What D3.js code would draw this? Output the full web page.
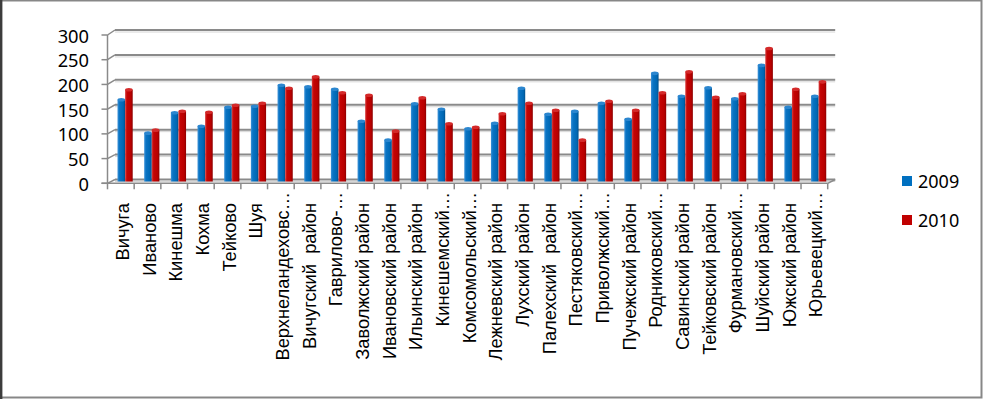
<!DOCTYPE html>
<html>
<head>
<meta charset="utf-8">
<script src="https://cdn.jsdelivr.net/npm/d3@7"></script>
<style>
  html, body { margin: 0; padding: 0; background: #fff; }
  svg { display: block; }
  text { font-family: "Noto Sans", "Open Sans", sans-serif; fill: #000; }
</style>
</head>
<body>
<svg id="chart" width="983" height="399"></svg>
<script>
const categories = [
  "Вичуга", "Иваново", "Кинешма", "Кохма", "Тейково", "Шуя",
  "Верхнеландеховс…", "Вичугский  район", "Гаврилово-…", "Заволжский район",
  "Ивановский район", "Ильинский район", "Кинешемский…", "Комсомольский…",
  "Лежневский район", "Лухский район", "Палехский  район", "Пестяковский…",
  "Приволжский…", "Пучежский район", "Родниковский…", "Савинский район",
  "Тейковский район", "Фурмановский…", "Шуйский район", "Южский район", "Юрьевецкий…"
];
const values2009 = [164, 97, 138, 111, 149, 151, 193, 190, 185, 121, 83, 156, 145, 106, 117, 187, 135, 141, 157, 125, 217, 171, 188, 166, 233, 149, 171];
const values2010 = [184, 103, 141, 139, 153, 157, 187, 210, 178, 173, 101, 168, 116, 109, 136, 157, 143, 83, 161, 143, 178, 220, 169, 176, 267, 185, 200];
const seriesNames = ["2009", "2010"];
const yTicks = [0, 50, 100, 150, 200, 250, 300];

const svg = d3.select("#chart");

// outer frame
svg.append("rect").attr("x", 1).attr("y", 0.5).attr("width", 980.5).attr("height", 397)
  .attr("fill", "#fff").attr("stroke", "#878787").attr("stroke-width", 2);
svg.append("line").attr("x1", 1.2).attr("x2", 1.2).attr("y1", 0).attr("y2", 399)
  .attr("stroke", "#3c3c3c").attr("stroke-width", 2.4);

// geometry
const x0 = 107.5, x1 = 827.7;
const depthX = 7.5;
const x = d3.scaleBand().domain(d3.range(categories.length)).range([x0, x1]).padding(0);
const yFront = d3.scaleLinear().domain([0, 300]).range([183.3, 35]);
const yBack = d3.scaleLinear().domain([0, 300]).range([179.5, 30]);
const yBar = d3.scaleLinear().domain([0, 300]).range([181.5, 32]);

const defs = svg.append("defs");
function grad(id, stops) {
  const g = defs.append("linearGradient").attr("id", id).attr("x1", "0%").attr("x2", "100%").attr("y1", "0%").attr("y2", "0%");
  stops.forEach(s => g.append("stop").attr("offset", s[0]).attr("stop-color", s[1]));
}
grad("gBlue", [["0%", "#3f93d8"], ["25%", "#0a74c4"], ["75%", "#0068b4"], ["100%", "#00508c"]]);
grad("gRed", [["0%", "#d84040"], ["25%", "#c40404"], ["75%", "#b80000"], ["100%", "#8c0000"]]);

const grid = svg.append("g");
// back-wall gridlines
grid.selectAll("line.g").data(yTicks).join("line")
  .attr("x1", x0 + depthX).attr("x2", x1 + depthX)
  .attr("y1", d => yBack(d)).attr("y2", d => yBack(d))
  .attr("stroke", "#8a8a8a").attr("stroke-width", 2);
grid.selectAll("line.gs").data(yTicks).join("line")
  .attr("x1", x0 + depthX).attr("x2", x1 + depthX)
  .attr("y1", d => yBack(d) + 2).attr("y2", d => yBack(d) + 2)
  .attr("stroke", "#d6d6d6").attr("stroke-width", 1);
// side-wall diagonals
grid.selectAll("line.d").data(yTicks).join("line")
  .attr("x1", x0).attr("x2", x0 + depthX)
  .attr("y1", d => yFront(d)).attr("y2", d => yBack(d))
  .attr("stroke", "#8a8a8a").attr("stroke-width", 1.5);
// right floor diagonal
grid.append("line").attr("x1", x1).attr("x2", x1 + depthX)
  .attr("y1", yFront(0)).attr("y2", yBack(0)).attr("stroke", "#8a8a8a").attr("stroke-width", 1.5);

// bars
const bw = x.bandwidth() * 0.285;
const off = x.bandwidth() * 0.375;
const series = [values2009, values2010];
const fills = ["url(#gBlue)", "url(#gRed)"];
const caps = ["#2b86cf", "#d42a2a"];
series.forEach((vals, s) => {
  const g = svg.append("g");
  g.selectAll("rect").data(vals).join("rect")
    .attr("x", (d, i) => x(i) + off + s * bw)
    .attr("y", d => yBar(d))
    .attr("width", bw)
    .attr("height", d => yBar(0) - yBar(d))
    .attr("fill", fills[s]);
  g.selectAll("ellipse").data(vals).join("ellipse")
    .attr("cx", (d, i) => x(i) + off + s * bw + bw / 2)
    .attr("cy", d => yBar(d))
    .attr("rx", bw / 2)
    .attr("ry", 1.8)
    .attr("fill", caps[s]);
});

// front axis (vertical) and floor line
const ax = svg.append("g").attr("stroke", "#8a8a8a").attr("stroke-width", 1.5);
ax.append("line").attr("x1", x0).attr("x2", x0).attr("y1", yFront(300)).attr("y2", yFront(0));
ax.append("line").attr("x1", x0 - 6).attr("x2", x1).attr("y1", yFront(0)).attr("y2", yFront(0));
ax.selectAll("line.t").data(yTicks).join("line")
  .attr("x1", x0 - 6).attr("x2", x0).attr("y1", d => yFront(d)).attr("y2", d => yFront(d));
ax.selectAll("line.c").data(d3.range(categories.length + 1)).join("line")
  .attr("x1", i => x0 + i * x.step()).attr("x2", i => x0 + i * x.step())
  .attr("y1", yFront(0)).attr("y2", yFront(0) + 6);

// y tick labels
svg.append("g").selectAll("text").data(yTicks).join("text")
  .attr("x", 89).attr("y", d => yFront(d))
  .attr("text-anchor", "end").attr("dominant-baseline", "central")
  .attr("font-size", 18.3).text(d => d);

// category labels
svg.append("g").selectAll("text").data(categories).join("text")
  .attr("transform", (d, i) => {
    const cx = x(i) + x.bandwidth() / 2 + 1.5;
    const yEnd = d.endsWith("…") ? 192 : 203;
    return `translate(${cx},${yEnd}) rotate(-90)`;
  })
  .attr("text-anchor", "end").attr("dominant-baseline", "central")
  .style("font-family", "'Liberation Sans', Arial, sans-serif")
  .attr("font-size", 18.3)
  .style("white-space", "pre")
  .text(d => d);

// legend
const legColors = ["#0070c0", "#c00000"];
const leg = svg.append("g");
seriesNames.forEach((n, i) => {
  const cy = 181 + i * 39;
  leg.append("rect").attr("x", 902).attr("y", cy - 5).attr("width", 10).attr("height", 10).attr("fill", legColors[i]);
  leg.append("text").attr("x", 918).attr("y", cy).attr("dominant-baseline", "central")
    .attr("font-size", 18).text(n);
});
</script>
</body>
</html>
